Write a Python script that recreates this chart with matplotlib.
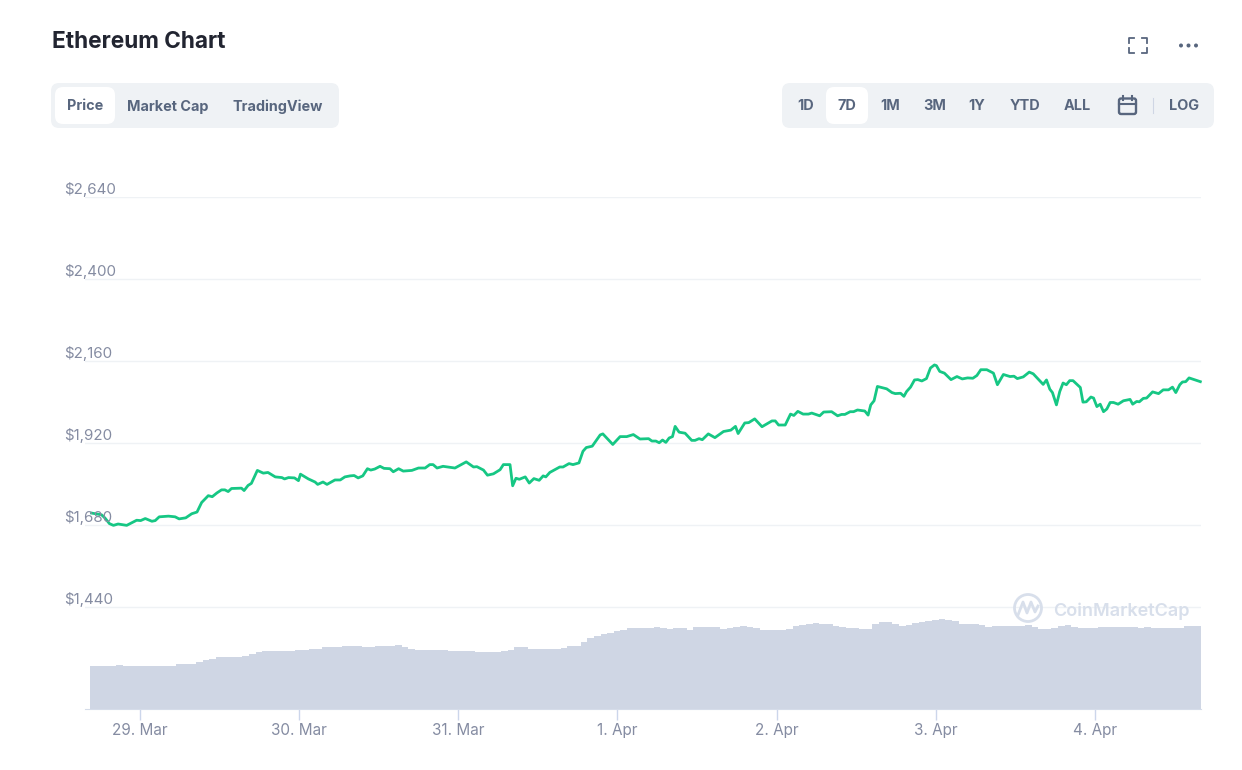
import matplotlib
matplotlib.use('Agg')
import matplotlib.pyplot as plt
from matplotlib.patches import FancyBboxPatch, Circle

plt.rcParams['font.family'] = ['Inter', 'DejaVu Sans']

# hours since 29 Mar 00:00, price in USD
hours = [-7.3,-5.8,-5.3,-4.6,-4.0,-3.3,-2.0,-1.3,-0.5,0.1,0.8,1.8,2.3,2.9,4.3,5.3,5.9,6.9,7.8,8.6,
         9.3,10.3,10.9,11.6,12.3,12.8,13.3,13.8,15.3,15.7,16.3,16.8,17.7,18.6,19.3,20.4,21.4,21.8,22.4,23.3,
         23.9,24.2,25.4,26.4,26.8,27.6,28.2,29.4,30.2,30.9,31.7,
         32.3,32.9,33.6,34.3,34.8,35.4,36.2,36.8,37.7,38.2,39.0,39.7,41.0,42.0,43.0,43.7,44.2,44.8,45.7,47.5,
         49.2,50.3,50.8,51.8,52.4,53.3,54.3,54.8,55.8,56.2,56.7,57.2,58.1,58.7,59.4,60.2,60.8,61.2,61.8,63.3,
         63.8,64.7,65.3,66.2,66.8,67.3,68.2,69.4,69.8,71.3,72.4,73.4,74.4,75.4,76.7,77.2,
         77.8,78.3,78.8,79.3,79.8,80.3,80.7,81.3,82.2,83.2,83.7,84.3,84.8,85.7,86.7,88.0,89.1,89.8,90.2,91.2,
         91.8,92.7,93.8,95.3,95.8,96.3,97.3,98.1,98.6,99.2,100.0,100.8,101.3,102.5,103.1,104.3,105.2,105.8,106.3,
         107.1,107.6,108.2,109.3,109.8,110.2,110.7,111.2,112.6,113.4,113.9,114.7,115.2,115.6,116.2,116.8,117.3,
         117.9,118.6,119.2,119.8,120.1,120.6,
         121.3,122.3,123.2,124.0,124.8,125.6,126.2,126.8,127.7,128.7,129.3,130.2,131.2,131.8,132.3,133.2,134.1,
         134.7,136.2,136.7,137.2,137.6,138.2,138.7,139.2,139.7,140.2,140.7,141.8,142.2,142.7,143.4,143.8,144.3,
         144.8,145.3,145.8,146.3,146.8,147.5,148.3,149.3,149.7,150.3,150.7,151.3,151.8,152.7,153.6,154.3,155.1,
         155.7,156.2,156.8,157.2,157.7,158.2,159.1,159.9]
price = [1714,1709,1700,1683,1678,1682,1678,1685,1693,1692,1698,1690,1692,1703,1705,1703,1697,1700,1712,1717,
         1745,1765,1762,1773,1782,1782,1777,1786,1787,1780,1795,1801,1839,1831,1833,1820,1818,1814,1818,1817,
         1809,1828,1814,1805,1798,1805,1798,1811,1811,1820,1823,
         1824,1817,1823,1844,1840,1843,1851,1845,1844,1835,1844,1837,1839,1846,1846,1856,1856,1846,1851,1846,
         1864,1849,1850,1840,1825,1829,1841,1856,1856,1794,1816,1813,1820,1802,1815,1810,1823,1820,1833,1849,
         1849,1859,1856,1861,1895,1906,1910,1943,1946,1915,1938,1938,1944,1931,1932,1925,
         1925,1920,1928,1921,1934,1938,1968,1951,1948,1927,1927,1932,1929,1946,1935,1953,1957,1968,1947,1978,
         1979,1990,1967,1984,1984,1972,1972,2004,2000,2012,2004,2004,2007,1999,2010,2011,1999,2003,2003,
         2011,2011,2016,2013,2001,2031,2043,2085,2078,2067,2064,2065,2056,2070,2083,2104,2105,
         2101,2108,2139,2148,2146,2129,
         2124,2105,2114,2107,2110,2109,2117,2134,2134,2124,2090,2120,2114,2115,2108,2113,2127,
         2122,2091,2104,2077,2067,2031,2070,2095,2090,2102,2102,2082,2039,2040,2054,2051,2026,
         2033,2011,2019,2038,2038,2033,2043,2047,2033,2041,2040,2050,2051,2069,2064,2075,2075,
         2083,2067,2090,2098,2099,2110,2104,2099]

# hourly volume in USD bn
vol_hours = [-7.04 + i for i in range(168)]
volume = [21.5,21.5,21.5,21.5,22,21.5,21.5,21.5,21.5,21.5,21.5,21.5,21.5,22.3,22.3,22.3,23.3,24.5,25.2,25.8,
          25.8,25.8,25.8,26.5,27.5,28.5,29,29,29,29,29,29.5,29.5,30.1,30.1,30.8,30.8,30.8,31.3,31.3,
          31.3,30.8,30.8,31.3,31.3,31.3,32,31.2,30.2,29.6,29.6,29.5,29.5,29.5,29,29,29,29,28.3,28.3,
          28.3,28.3,29.2,29.5,30.8,30.8,30.1,30.1,30.1,30.1,29.8,30.7,31.5,31.5,33.6,35.5,36.5,37.3,38.2,39,
          39.7,40.3,40.3,40.3,40.3,40.8,40.7,40,40.3,40.3,39.7,40.8,40.8,40.8,40.8,40.2,40.5,41,41.3,41,
          40.7,39.7,39.7,39.7,39.7,40.2,41.7,42,42.3,42.8,42.5,42.7,41.5,41,40.5,40.3,40.2,40,42.5,43.5,
          43.5,42.5,41.7,42,43,43.5,44,44.5,45,44.5,43.8,42.7,42.5,42.4,41.8,41,41.3,41.4,41.4,41.4,
          41.4,41.8,41,40,39.8,40.5,41.3,41.8,41,40.7,40.7,40.7,41,41,41,41,41,41,40.7,41,
          40.7,40.7,40.7,40.7,40.7,41.5,41.3,41.3]

price_ticks = [1440, 1680, 1920, 2160, 2400, 2640]
price_labels = ['$1,440', '$1,680', '$1,920', '$2,160', '$2,400', '$2,640']
date_ticks = [0, 24, 48, 72, 96, 120, 144]
date_labels = ['29. Mar', '30. Mar', '31. Mar', '1. Apr', '2. Apr', '3. Apr', '4. Apr']

tabs_left = ['Price', 'Market Cap', 'TradingView']
tabs_right = ['1D', '7D', '1M', '3M', '1Y', 'YTD', 'ALL', 'LOG']

W, H = 1242, 770
fig = plt.figure(figsize=(W / 100, H / 100), dpi=100, facecolor='white')
rect = [85 / W, (H - 709) / H, (1201 - 85) / W, (709 - 197) / H]

# volume sits under the price line
ax_vol = fig.add_axes(rect)
ax_vol.bar(vol_hours, volume, width=1.02, color='#cfd6e4', linewidth=0)
ax_vol.set_ylim(0, 256)
ax_vol.set_xlim(-8.29, 160)
ax_vol.set_yticks([])
ax_vol.set_xticks(date_ticks)
ax_vol.set_xticklabels(date_labels, fontsize=11, color='#858ca2')
ax_vol.tick_params(axis='x', length=8, width=1, color='#ccd6eb', pad=2)
for s in ['top', 'left', 'right']:
    ax_vol.spines[s].set_visible(False)
ax_vol.spines['bottom'].set_color('#d5dce9')
ax_vol.set_zorder(1)

ax = fig.add_axes(rect, sharex=ax_vol)
ax.patch.set_visible(False)
ax.set_zorder(2)
ax.set_ylim(1140, 2640)
ax.set_yticks(price_ticks)
ax.set_yticklabels([])
ax.tick_params(axis='both', length=0, labelbottom=False)
ax.grid(axis='y', color='#eff2f5', linewidth=1)
ax.set_axisbelow(True)
for s in ax.spines.values():
    s.set_visible(False)
for t, lab in zip(price_ticks, price_labels):
    ax.annotate(lab, xy=(0, t), xycoords=('axes fraction', 'data'), xytext=(-21, 3),
                textcoords='offset pixels', ha='left', va='baseline', fontsize=10.9,
                color='#858ca2', annotation_clip=False)
ax.plot(hours, price, color='#16c784', linewidth=2, solid_joinstyle='round', clip_on=False)

# page furniture, in pixel coordinates
ui = fig.add_axes([0, 0, 1, 1])
ui.set_xlim(0, W)
ui.set_ylim(H, 0)
ui.axis('off')
ui.patch.set_visible(False)
ui.set_zorder(3)

def box(x0, y0, x1, y1, color, r=8):
    ui.add_patch(FancyBboxPatch((x0 + r, y0 + r), x1 - x0 - 2 * r, y1 - y0 - 2 * r,
                                boxstyle='round,pad=%d,rounding_size=%d' % (r, r),
                                fc=color, ec='none'))

ui.text(51.5, 47.5, 'Ethereum Chart', fontsize=16.3, fontweight='bold', color='#222531',
        ha='left', va='baseline')

box(51, 83, 339, 128, '#eff2f5')
box(55, 87, 115, 124, 'white')
box(782, 83, 1214, 128, '#eff2f5')
box(826, 87, 868, 124, 'white')
for lab, x in zip(tabs_left, [85, 168, 278]):
    ui.text(x, 110.5, lab, fontsize=10.4, fontweight='bold', color='#58667e', ha='center', va='baseline')
for lab, x in zip(tabs_right, [806, 847, 890, 934.5, 977, 1025, 1077, 1184]):
    ui.text(x, 110.5, lab, fontsize=10.4, fontweight='bold', color='#58667e', ha='center', va='baseline')

# separator and calendar icon
ui.plot([1153, 1153], [98, 113], color='#cfd6e4', lw=0.8)
ui.add_patch(FancyBboxPatch((1119, 98.5), 17, 15.5, boxstyle='round,pad=0,rounding_size=2',
                            fc='none', ec='#58667e', lw=1.7))
ui.plot([1119, 1136], [103.5, 103.5], color='#58667e', lw=1.5)
ui.plot([1123, 1123], [96, 100], color='#58667e', lw=1.5)
ui.plot([1132, 1132], [96, 100], color='#58667e', lw=1.5)

# fullscreen corners
for x0, x1, y0, y1 in [(1129, 1134, 38, 43), (1147, 1142, 38, 43), (1129, 1134, 53, 48), (1147, 1142, 53, 48)]:
    ui.plot([x1, x0, x0], [y0, y0, y1], color='#58667e', lw=1.3)
for x in [1181, 1188.5, 1196]:
    ui.add_patch(Circle((x, 45.5), 2, fc='#58667e', ec='none'))

# watermark
ui.add_patch(Circle((1028, 608), 13.5, fc='none', ec='#d8dfeb', lw=2))
ui.plot([1018, 1023, 1027, 1031, 1035, 1038], [615, 602, 613, 602, 612, 606], color='#d8dfeb', lw=2)
ui.text(1053, 616, 'CoinMarketCap', fontsize=13, fontweight='semibold', color='#d8dfeb', ha='left', va='baseline')

fig.savefig('out.png', dpi=100)
